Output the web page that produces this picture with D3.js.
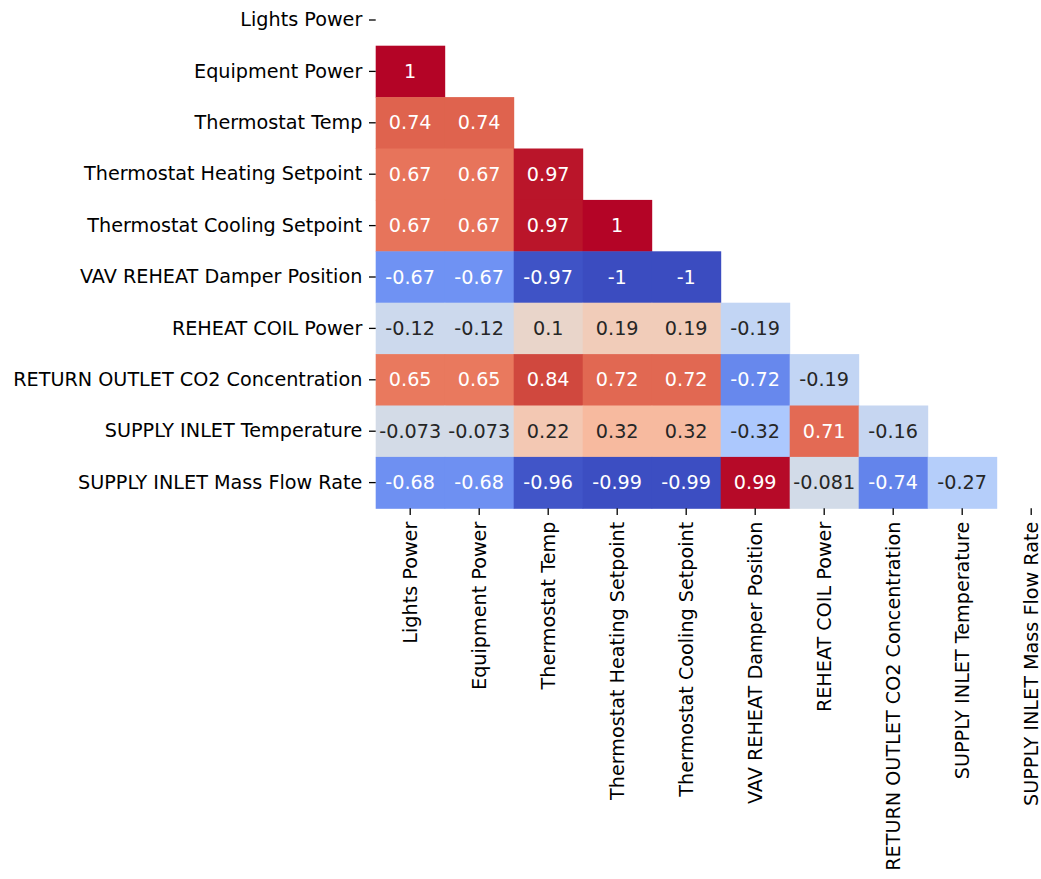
<!DOCTYPE html>
<html>
<head>
<meta charset="utf-8">
<script src="https://cdn.jsdelivr.net/npm/d3@7"></script>
<style>
  html, body { margin: 0; padding: 0; background: #fff; }
  svg { display: block; }
  text { font-family: "DejaVu Sans", sans-serif; }
</style>
</head>
<body>
<svg id="chart" width="1041" height="879"></svg>
<script>
// Variable names (rows and columns share the same order)
const variables = [
  "Lights Power",
  "Equipment Power",
  "Thermostat Temp",
  "Thermostat Heating Setpoint",
  "Thermostat Cooling Setpoint",
  "VAV REHEAT Damper Position",
  "REHEAT COIL Power",
  "RETURN OUTLET CO2 Concentration",
  "SUPPLY INLET Temperature",
  "SUPPLY INLET Mass Flow Rate"
];

// Lower-triangle correlation values, one array per row (diagonal and above are masked)
const rowLightsPower = [];
const rowEquipmentPower = [1];
const rowThermostatTemp = [0.74, 0.74];
const rowHeatingSetpoint = [0.67, 0.67, 0.97];
const rowCoolingSetpoint = [0.67, 0.67, 0.97, 1];
const rowDamperPosition = [-0.67, -0.67, -0.97, -1, -1];
const rowReheatCoilPower = [-0.12, -0.12, 0.1, 0.19, 0.19, -0.19];
const rowReturnCO2 = [0.65, 0.65, 0.84, 0.72, 0.72, -0.72, -0.19];
const rowSupplyTemp = [-0.073, -0.073, 0.22, 0.32, 0.32, -0.32, 0.71, -0.16];
const rowSupplyMassFlow = [-0.68, -0.68, -0.96, -0.99, -0.99, 0.99, -0.081, -0.74, -0.27];

const lowerRows = [
  rowLightsPower, rowEquipmentPower, rowThermostatTemp, rowHeatingSetpoint,
  rowCoolingSetpoint, rowDamperPosition, rowReheatCoilPower, rowReturnCO2,
  rowSupplyTemp, rowSupplyMassFlow
];

// Flatten into cells
const cells = [];
lowerRows.forEach((vals, i) => {
  vals.forEach((v, j) => cells.push({ row: variables[i], col: variables[j], value: v }));
});

// Diverging "coolwarm" colour ramp
const coolwarmStops = [
  [0.2298057, 0.298717966, 0.753683153],
  [0.26623388, 0.353094838, 0.801466763],
  [0.30386891, 0.406535296, 0.84495867],
  [0.342804478, 0.458757618, 0.883725899],
  [0.38301334, 0.50941904, 0.917387822],
  [0.424369608, 0.558148092, 0.945619588],
  [0.46666708, 0.604562568, 0.968154911],
  [0.509635204, 0.648280772, 0.98478814],
  [0.552953156, 0.688929332, 0.995375608],
  [0.596262162, 0.726149107, 0.999836203],
  [0.639176211, 0.759599947, 0.998151185],
  [0.681291281, 0.788964712, 0.990363227],
  [0.722193294, 0.813952739, 0.976574709],
  [0.761464949, 0.834302879, 0.956945269],
  [0.798691636, 0.849786142, 0.931688648],
  [0.833466556, 0.860207984, 0.901068838],
  [0.865395197, 0.86541021, 0.865395561],
  [0.897787179, 0.848937047, 0.820880546],
  [0.924127593, 0.827384882, 0.774508472],
  [0.944468518, 0.800927443, 0.726736146],
  [0.958852946, 0.769767752, 0.678007945],
  [0.96732803, 0.734132809, 0.628751763],
  [0.969954137, 0.694266682, 0.579375448],
  [0.966811177, 0.650421156, 0.530263762],
  [0.958003065, 0.602842431, 0.481775914],
  [0.943660866, 0.551750968, 0.434243684],
  [0.923944917, 0.49730856, 0.387970225],
  [0.89904617, 0.439559467, 0.343229596],
  [0.869186849, 0.378313092, 0.300267182],
  [0.834620542, 0.312874446, 0.259301199],
  [0.795631745, 0.24128379, 0.220525627],
  [0.752534934, 0.157246067, 0.184115123],
  [0.705673158, 0.01555616, 0.150232812]
].map(c => d3.rgb(c[0] * 255, c[1] * 255, c[2] * 255));

const coolwarm = d3.scaleLinear()
  .domain(d3.range(coolwarmStops.length).map(i => -1 + 2 * i / (coolwarmStops.length - 1)))
  .range(coolwarmStops)
  .interpolate(d3.interpolateRgb)
  .clamp(true);

// Relative luminance used to choose annotation colour
function luminance(c) {
  const rgb = d3.rgb(c);
  const lin = [rgb.r, rgb.g, rgb.b].map(v => {
    v /= 255;
    return v <= 0.03928 ? v / 12.92 : Math.pow((v + 0.055) / 1.055, 2.4);
  });
  return 0.2126 * lin[0] + 0.7152 * lin[1] + 0.0722 * lin[2];
}

// Layout
const svg = d3.select("#chart");
const gridLeft = 375.7, gridTop = -5.7;
const cellW = 69.0, cellH = 51.4;
const n = variables.length;
const fontSize = 19.2;
const tickLen = 6.7, tickPad = 6.7;

const x = d3.scaleBand().domain(variables).range([gridLeft, gridLeft + cellW * n]).padding(0);
const y = d3.scaleBand().domain(variables).range([gridTop, gridTop + cellH * n]).padding(0);

const g = svg.append("g");

// Cells
g.selectAll("rect.cell")
  .data(cells)
  .join("rect")
  .attr("class", "cell")
  .attr("x", d => x(d.col))
  .attr("y", d => y(d.row))
  .attr("width", x.bandwidth() + 0.5)
  .attr("height", y.bandwidth() + 0.5)
  .attr("fill", d => coolwarm(d.value));

// Annotations
g.selectAll("text.annot")
  .data(cells)
  .join("text")
  .attr("class", "annot")
  .attr("x", d => x(d.col) + x.bandwidth() / 2)
  .attr("y", d => y(d.row) + y.bandwidth() / 2)
  .attr("text-anchor", "middle")
  .attr("dominant-baseline", "central")
  .attr("font-size", fontSize)
  .attr("fill", d => luminance(coolwarm(d.value)) > 0.408 ? "#262626" : "#ffffff")
  .text(d => String(d.value));

// Y axis
const yAxis = svg.append("g")
  .attr("transform", `translate(${gridLeft},0)`)
  .call(d3.axisLeft(y).tickSize(tickLen).tickPadding(tickPad));
yAxis.select(".domain").remove();
yAxis.selectAll(".tick line").attr("stroke", "#000").attr("stroke-width", 1.3);
yAxis.selectAll(".tick text")
  .attr("font-size", fontSize)
  .attr("font-family", "DejaVu Sans, sans-serif")
  .attr("fill", "#000");

// X axis with vertical labels
const xBottom = gridTop + cellH * n;
const xAxis = svg.append("g")
  .attr("transform", `translate(0,${xBottom})`)
  .call(d3.axisBottom(x).tickSize(tickLen).tickPadding(tickPad));
xAxis.select(".domain").remove();
xAxis.selectAll(".tick line").attr("stroke", "#000").attr("stroke-width", 1.3);
xAxis.selectAll(".tick text")
  .attr("font-size", fontSize)
  .attr("font-family", "DejaVu Sans, sans-serif")
  .attr("fill", "#000")
  .attr("transform", "rotate(-90)")
  .attr("text-anchor", "end")
  .attr("x", -(tickLen + tickPad))
  .attr("y", 0)
  .attr("dy", "0.35em");
</script>
</body>
</html>
